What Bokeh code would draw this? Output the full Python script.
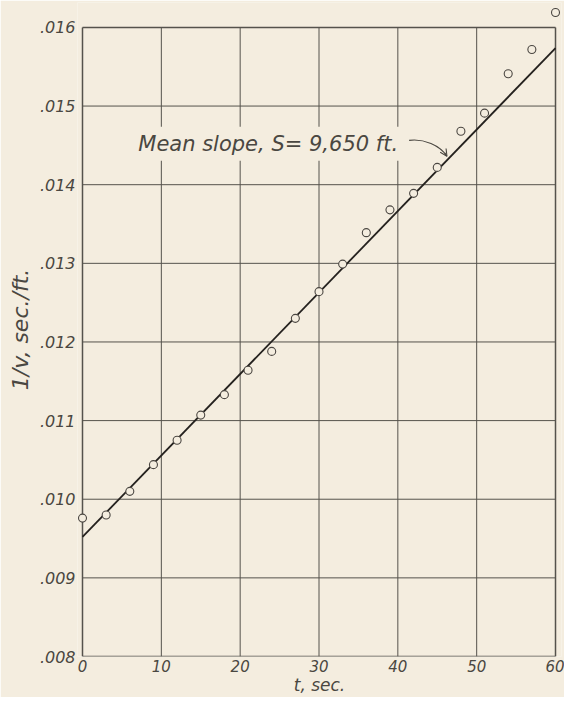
from bokeh.plotting import figure
from bokeh.models import Range1d, FixedTicker, CustomJSTickFormatter, Label, Arrow, OpenHead
from bokeh.embed import file_html
from bokeh.resources import INLINE

# ---- data ----
t_sec = [0, 3, 6, 9, 12, 15, 18, 21, 24, 27, 30, 33, 36, 39, 42, 45, 48, 51, 54, 57, 60]
inv_v = [0.00976, 0.00980, 0.01010, 0.01044, 0.01075, 0.01107, 0.01133, 0.01164,
         0.01188, 0.01230, 0.01264, 0.01299, 0.01339, 0.01368, 0.01389, 0.01422,
         0.01468, 0.01491, 0.01541, 0.01572, 0.01619]
mean_slope_ft = 9650
fit_t = [0, 60]
fit_inv_v = [0.00952, 0.00952 + 60 / mean_slope_ft]
x_ticks = [0, 10, 20, 30, 40, 50, 60]
y_ticks = [0.008, 0.009, 0.010, 0.011, 0.012, 0.013, 0.014, 0.015, 0.016]
note_text = "Mean slope, S= 9,650 ft."

PAPER = "#f4eddf"
INK = "#4a4741"
FONT = "DejaVu Sans"

p = figure(width=564, height=697, output_backend="svg", toolbar_location=None,
           x_range=Range1d(-0.634, 60.76), y_range=Range1d(0.008, 0.016317),
           min_border_left=77, min_border_right=3, min_border_top=2, min_border_bottom=39,
           background_fill_color=PAPER, border_fill_color=PAPER, outline_line_color=None)
p.grid.visible = False

# grid and frame, built from the tick lists
xw = [1.5 if (v == x_ticks[0] or v == x_ticks[-1]) else 1.0 for v in x_ticks]
yw = [1.5 if (v == y_ticks[0] or v == y_ticks[-1]) else 1.0 for v in y_ticks]
p.segment(x0=x_ticks, y0=[y_ticks[0]] * len(x_ticks), x1=x_ticks, y1=[y_ticks[-1]] * len(x_ticks),
          line_color="#55524c", line_width=xw)
p.segment(x0=[x_ticks[0]] * len(y_ticks), y0=y_ticks, x1=[x_ticks[-1]] * len(y_ticks), y1=y_ticks,
          line_color="#55524c", line_width=yw)

# fitted line and observations
p.line(fit_t, fit_inv_v, line_color="#24211e", line_width=1.8)
p.scatter(t_sec, inv_v, marker="circle", size=8, fill_color=PAPER,
          line_color="#4a4641", line_width=1.1)

# axes
for ax in (p.xaxis[0], p.yaxis[0]):
    ax.axis_line_color = None
    ax.major_tick_line_color = None
    ax.minor_tick_line_color = None
    ax.major_tick_out = 0
    ax.major_tick_in = 0
    ax.major_label_text_font = FONT
    ax.major_label_text_font_style = "italic"
    ax.major_label_text_color = INK
    ax.axis_label_text_font = FONT
    ax.axis_label_text_font_style = "italic"
    ax.axis_label_text_color = INK

p.xaxis.ticker = FixedTicker(ticks=x_ticks)
p.yaxis.ticker = FixedTicker(ticks=y_ticks)
p.yaxis.formatter = CustomJSTickFormatter(code="return tick.toFixed(3).replace(/^0/, '');")
p.xaxis.major_label_text_font_size = "15px"
p.yaxis.major_label_text_font_size = "16px"
p.xaxis.major_label_standoff = 3
p.yaxis.major_label_standoff = 2
p.xaxis.axis_label = "t, sec."
p.yaxis.axis_label = "1/v, sec./ft."
p.xaxis.axis_label_text_font_size = "17px"
p.yaxis.axis_label_text_font_size = "22px"
p.xaxis.axis_label_standoff = 0
p.yaxis.axis_label_standoff = 4

# annotation with curved arrow
p.add_layout(Label(x=6.44, y=0.01452, text=note_text, text_baseline="middle",
                   text_font=FONT, text_font_style="italic", text_font_size="21px",
                   text_color=INK, background_fill_color=PAPER, padding=5))
p.bezier(x0=[41.43], y0=[0.014564], x1=[46.23], y1=[0.014362],
         cx0=[43.3], cy0=[0.014589], cx1=[45.35], cy1=[0.0145],
         line_color=INK, line_width=1.1)
p.add_layout(Arrow(end=OpenHead(size=7, line_color=INK, line_width=1.1),
                   x_start=45.95, y_start=0.014405, x_end=46.23, y_end=0.014362,
                   line_color=INK, line_width=1.1))

open("out.html", "w").write(file_html(p, INLINE))
